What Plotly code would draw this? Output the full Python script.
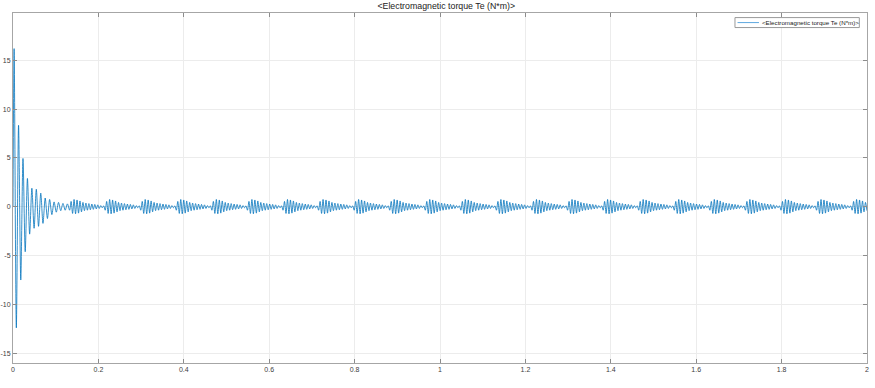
import plotly.graph_objects as go

# ---- data ----
# successive extrema (peak / trough) of the start-up transient, N*m
transient_extrema = [16.2, -12.4, 8.35, -7.5, 4.95, -4.6, 2.9, -2.8, 1.9, -2.2,
                     1.8, -2.0, 1.4, -1.7, 0.9, -1.2, 0.75, -0.8, 0.5, -0.55,
                     0.45, -0.4, 0.35, -0.35, 0.3]
transient_first_time = 0.0026   # s, time of first peak
transient_spacing = 0.0052      # s, half oscillation period during start-up

# successive extrema of one steady-state beat (burst, decaying band, quiet), N*m
beat_extrema = [-0.35, 0.55, -0.68, 0.75, -0.72, 0.7, -0.65, 0.6, -0.52, 0.45, -0.4,
                0.38, -0.35, 0.33, -0.3, 0.28, -0.26, 0.24, -0.22, 0.2, -0.17,
                0.12, -0.1, 0.1]
first_beat_time = 0.1326        # s
beat_period = 0.0833            # s
t_end = 2.0

x_ticks = [0, 0.2, 0.4, 0.6, 0.8, 1.0, 1.2, 1.4, 1.6, 1.8, 2.0]
x_tick_labels = ["0", "0.2", "0.4", "0.6", "0.8", "1", "1.2", "1.4", "1.6", "1.8", "2"]
y_ticks = [-15, -10, -5, 0, 5, 10, 15]
y_tick_labels = ["-15", "-10", "-5", "0", "5", "10", "15"]

series_name = "<Electromagnetic torque Te (N*m)>"

# ---- assemble the sequence of extrema ----
times = [0.0] + [transient_first_time + k * transient_spacing for k in range(len(transient_extrema))]
values = [0.0] + list(transient_extrema)
step = beat_period / len(beat_extrema)
k = 0
while True:
    t = first_beat_time + k * step
    if t > t_end:
        break
    times.append(t)
    values.append(beat_extrema[k % len(beat_extrema)])
    k += 1

fig = go.Figure()
fig.add_trace(go.Scatter(
    x=times, y=values, mode="lines", name=series_name, showlegend=False,
    line=dict(color="#0072BD", width=0.8, shape="spline", smoothing=0.8),
))

font_family = "Liberation Sans, Arial, sans-serif"
axis_common = dict(
    showgrid=True, gridcolor="#ececec", gridwidth=1,
    zeroline=False, automargin=False,
    showline=True, linecolor="#a6a6a6", linewidth=1, mirror="allticks",
    ticks="inside", ticklen=4, tickcolor="#8c8c8c", tickwidth=1,
    tickfont=dict(family=font_family, size=7, color="#404040"),
)

# legend drawn as a small framed box (paper coordinates)
leg_x0, leg_x1, leg_y0, leg_y1 = 0.8454, 0.991, 0.9584, 0.9869
leg_line_x0, leg_line_x1, leg_mid_y = 0.8484, 0.8735, 0.9726

fig.update_layout(
    width=875, height=388,
    margin=dict(l=13, r=8, t=13, b=25),
    paper_bgcolor="white", plot_bgcolor="white",
    font=dict(family=font_family),
    title=dict(text=series_name, x=0.51, xanchor="center",
               y=1 - 6 / 388, yanchor="middle", yref="container",
               font=dict(family=font_family, size=8.8, color="#222222")),
    showlegend=False,
    shapes=[
        dict(type="rect", xref="paper", yref="paper",
             x0=leg_x0, x1=leg_x1, y0=leg_y0, y1=leg_y1,
             line=dict(color="#9a9a9a", width=1), fillcolor="white", layer="above"),
        dict(type="line", xref="paper", yref="paper",
             x0=leg_line_x0, x1=leg_line_x1, y0=leg_mid_y, y1=leg_mid_y,
             line=dict(color="#5ea8df", width=1), layer="above"),
    ],
    annotations=[
        dict(text=series_name, xref="paper", yref="paper",
             x=0.8755, y=leg_mid_y, xanchor="left", yanchor="middle",
             showarrow=False, borderpad=0,
             font=dict(family=font_family, size=6.2, color="#222222")),
    ],
)
fig.update_xaxes(range=[0, 2], tickvals=x_ticks, ticktext=x_tick_labels, **axis_common)
fig.update_yaxes(range=[-16, 19.85], tickvals=y_ticks, ticktext=y_tick_labels, **axis_common)

fig.write_html("out.html")
